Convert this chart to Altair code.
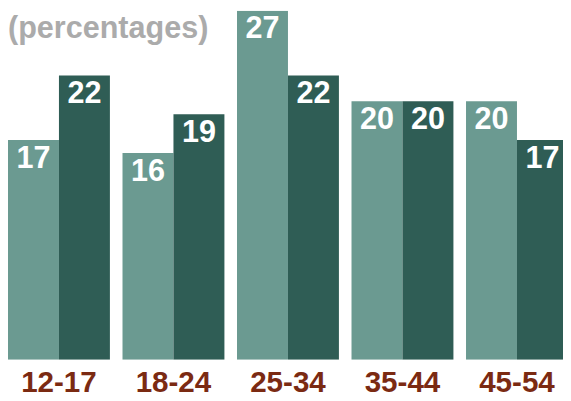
import altair as alt
import pandas as pd

categories = ["12-17", "18-24", "25-34", "35-44", "45-54"]
series_names = ["first", "second"]
first_values = [17, 16, 27, 20, 20]
second_values = [22, 19, 22, 20, 17]
subtitle_text = "(percentages)"

LIGHT = "#6b9a91"
DARK = "#2f5d55"
LABEL = "#7b2a12"
GRAY = "#ababab"
FONT = "Liberation Sans"

rows = []
for c, a, b in zip(categories, first_values, second_values):
    rows.append({"age": c, "series": series_names[0], "value": a})
    rows.append({"age": c, "series": series_names[1], "value": b})
df = pd.DataFrame(rows)

x = alt.X(
    "age:N",
    sort=categories,
    scale=alt.Scale(range=[0, 568], paddingInner=0.11, paddingOuter=0),
    axis=alt.Axis(
        title=None, labelAngle=0, labelFont=FONT, labelFontSize=30,
        labelFontWeight="bold", labelColor=LABEL, labelPadding=8,
        labelBaseline="top", ticks=False, domain=False, grid=False,
    ),
)
xoff = alt.XOffset("series:N", sort=series_names,
                   scale=alt.Scale(paddingInner=0, paddingOuter=0))
y = alt.Y("value:Q", scale=alt.Scale(domain=[0, 27], nice=False), axis=None)
color = alt.Color("series:N", scale=alt.Scale(domain=series_names, range=[LIGHT, DARK]),
                  legend=None)

bars = alt.Chart(df).mark_bar(clip=True).encode(x=x, xOffset=xoff, y=y, color=color)
labels = alt.Chart(df).mark_text(
    color="white", font=FONT, fontSize=31, fontWeight="bold",
    baseline="alphabetic", dy=28,
).encode(x=x, xOffset=xoff, y=y, text="value:Q")
title = alt.Chart(pd.DataFrame({"t": [subtitle_text]})).mark_text(
    align="left", baseline="alphabetic", fontSize=31, fontWeight="bold",
    color=GRAY, font=FONT,
).encode(x=alt.value(0), y=alt.value(28), text="t:N")

chart = alt.layer(bars, labels, title).properties(
    width=563, height=354,
    autosize=alt.AutoSizeParams(type="none"),
    padding={"left": 0, "top": 0, "right": 0, "bottom": 38},
    background="white",
).configure_view(strokeWidth=0)

chart.save("out.html", embed_options={"renderer": "svg", "actions": False})
